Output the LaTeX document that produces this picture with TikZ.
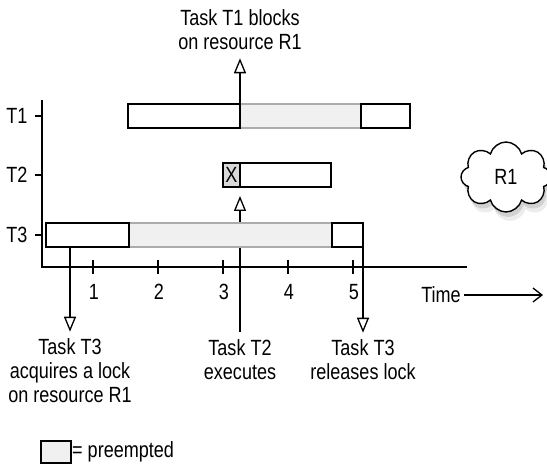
\documentclass[tikz,border=0pt]{standalone}
\usepackage{fontspec}
\setmainfont{Liberation Sans}[FakeStretch=0.82]
\usetikzlibrary{positioning, arrows.meta, shapes.symbols, shadows, backgrounds}

\begin{document}
\begin{tikzpicture}[x=1pt, y=-1pt, every node/.style={font=\fontsize{22}{24}\selectfont}]
\tikzstyle{run} = [rectangle, draw=black, fill=white, line width=1.3pt, minimum height=24pt, inner sep=0pt, outer sep=0pt]
\tikzstyle{wait} = [rectangle, draw=gray!65, fill=gray!12, line width=1.3pt, minimum height=24pt, inner sep=0pt, outer sep=0pt]
\tikzstyle{note} = [align=center, inner sep=2pt]
\tikzstyle{event} = [line width=1.3pt, -{Triangle[open, length=15pt, width=12pt]}]
\tikzstyle{axis} = [line width=1.3pt]

\useasboundingbox (0,0) rectangle (547,468);

 %任务时间条
\node (t1b) [wait, minimum width=121pt, anchor=west] at (240,116) {};
\node (t1a) [run, minimum width=112pt, left=0pt of t1b] {};
\node (t1c) [run, minimum width=49pt, right=0pt of t1b] {};

\node (t2x) [run, fill=gray!30, minimum width=17pt, anchor=west] at (223,175) {X};
\node (t2a) [run, minimum width=91pt, right=0pt of t2x] {};

\node (t3b) [wait, minimum width=203pt, anchor=west] at (129,235) {};
\node (t3a) [run, minimum width=83pt, left=0pt of t3b] {};
\node (t3c) [run, minimum width=31pt, right=0pt of t3b] {};

 %坐标轴
\node (r1) [anchor=east] at (31,116) {T1};
\node (r2) [anchor=east] at (31,175) {T2};
\node (r3) [anchor=east] at (31,235) {T3};
\coordinate (top) at (42,100);
\coordinate (o) at (42,267);
\coordinate (tmax) at (467,267);
\draw [axis] (top) -- (o) -- (tmax);
\foreach \r in {r1,r2,r3}
  \draw [axis, shorten <=4pt] (\r.east) -- (o |- \r.east);
\foreach \i in {1,...,5} {
  \coordinate (k\i) at (28+65*\i,267);
  \draw [axis] ([yshift=7pt]k\i) -- ([yshift=-7pt]k\i);
  \node (n\i) at (29+65*\i,292) {\i};
}
\node (time) at (441,295) {Time};
\coordinate (tend) at (543,295);
\draw [line width=1.3pt, -{Straight Barb[length=9pt, width=14pt]}] (time.east) -- (tend);

 %资源
\node (res) [cloud, cloud puffs=8, aspect=1.3, draw, line width=1.4pt, fill=white, minimum width=90pt, minimum height=70pt,
  drop shadow={opacity=0.15, shadow xshift=4pt, shadow yshift=-9pt},
  drop shadow={opacity=0.25, shadow xshift=2pt, shadow yshift=-5pt}] at (506,177) {R1};

 %事件说明
\node (blk) [note] at (240,30) {Task T1 blocks\\on resource R1};
\node (acq) [note] at (70,371) {Task T3\\acquires a lock\\on resource R1};
\node (exe) [note] at (240,360) {Task T2\\executes};
\node (rel) [note] at (363,360) {Task T3\\releases lock};

\draw [event, shorten >=6pt] (t1b.north west) -- (blk.south);
\draw [event, shorten >=5pt] (acq.north |- t3a.south) -- (acq.north);
\draw [event, shorten >=5pt] (t3c.south east) -- (rel.north);
\begin{scope}[on background layer]
\draw [event, shorten <=6pt, shorten >=9pt] (exe.north) -- (t2x.south east);
\end{scope}

 %图例
\node (key) [wait, draw=black, minimum width=30pt, minimum height=22pt, anchor=west] at (41,452) {};
\node (keytext) [right=1pt of key, inner sep=0pt] {= preempted};
\end{tikzpicture}
\end{document}
